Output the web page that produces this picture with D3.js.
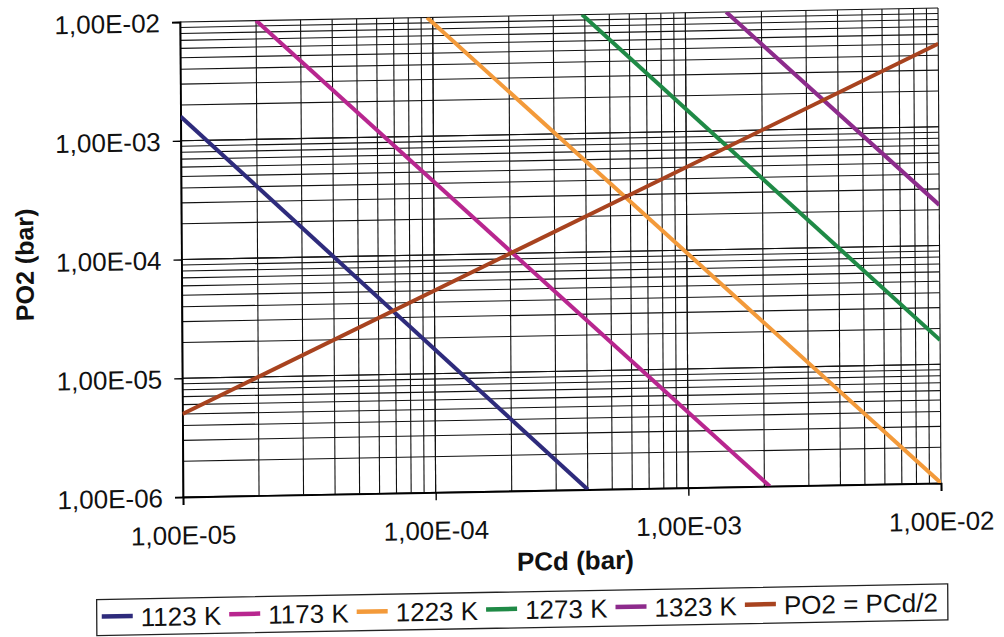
<!DOCTYPE html>
<html><head><meta charset="utf-8">
<script src="https://cdn.jsdelivr.net/npm/d3@7"></script>
<style>
body{margin:0;background:#fff;}
svg{display:block;font-family:"Liberation Sans",Arial,sans-serif;}
</style></head>
<body><svg id="c" width="1004" height="637"></svg>
<script>
// ---- data ----
const seriesNames = ["1123 K","1173 K","1223 K","1273 K","1323 K","PO2 = PCd/2"];
const seriesColors = ["#2e2b7c","#b8268f","#f39a3a","#1f8a46","#8d2b8c","#a8431f"];
const s1123 = [[1e-5,1.6e-3],[4.0e-4,1e-6]];
const s1173 = [[2.0e-5,1e-2],[2.1e-3,1e-6]];
const s1223 = [[9.5e-5,1e-2],[1e-2,1.0e-6]];
const s1273 = [[3.9e-4,1e-2],[1e-2,1.6e-5]];
const s1323 = [[1.45e-3,1e-2],[1e-2,2.2e-4]];
const sPO2  = [[1e-5,5e-6],[1e-2,5e-3]];
const seriesData = [s1123,s1173,s1223,s1273,s1323,sPO2];
const xTickValues = [1e-5,1e-4,1e-3,1e-2];
const xTickLabels = ["1,00E-05","1,00E-04","1,00E-03","1,00E-02"];
const yTickValues = [1e-6,1e-5,1e-4,1e-3,1e-2];
const yTickLabels = ["1,00E-06","1,00E-05","1,00E-04","1,00E-03","1,00E-02"];
const xTitle = "PCd (bar)", yTitle = "PO2 (bar)";

// ---- layout ----
const L=180, T=22, R=938, B=497;
const b=-0.0184, c=0.0063;
const svg=d3.select("#c");
const root=svg.append("g")
  .attr("transform",`matrix(1,${b},${c},1,${-c*T},${-b*L})`);

const x=d3.scaleLog().domain([1e-5,1e-2]).range([L,R]);
const y=d3.scaleLog().domain([1e-6,1e-2]).range([B,T]);

// minor + major grid
const xMinor=[],yMinor=[];
for(let e=-5;e<-2;e++) for(let m=1;m<=10;m++) xMinor.push(m*Math.pow(10,e));
for(let e=-6;e<-2;e++) for(let m=1;m<=10;m++) yMinor.push(m*Math.pow(10,e));
const grid=root.append("g").attr("stroke","#111").attr("stroke-width",1.1);
grid.selectAll("line.vx").data(xMinor).join("line")
  .attr("x1",d=>x(d)).attr("x2",d=>x(d)).attr("y1",T).attr("y2",B);
grid.selectAll("line.hy").data(yMinor).join("line")
  .attr("y1",d=>y(d)).attr("y2",d=>y(d)).attr("x1",L).attr("x2",R);

// axes
const xAxis=d3.axisBottom(x).tickValues(xTickValues).tickFormat((d,i)=>xTickLabels[i]).tickSize(8).tickPadding(21);
const yAxis=d3.axisLeft(y).tickValues(yTickValues).tickFormat((d,i)=>yTickLabels[i]).tickSize(8).tickPadding(12);
const gx=root.append("g").attr("transform",`translate(0,${B})`).call(xAxis);
const gy=root.append("g").attr("transform",`translate(${L},0)`).call(yAxis);
[gx,gy].forEach(g=>{
  g.select(".domain").attr("stroke","#000").attr("stroke-width",1.8);
  g.selectAll(".tick line").attr("stroke","#000").attr("stroke-width",1.4);
  g.selectAll(".tick text").attr("fill","#111").attr("font-size",26).attr("font-family","Liberation Sans, Arial, sans-serif");
});
gy.selectAll(".tick text").attr("dy","0.36em");

// clip
root.append("clipPath").attr("id","clp").append("rect").attr("x",L).attr("y",T).attr("width",R-L).attr("height",B-T);
const line=d3.line().x(d=>x(d[0])).y(d=>y(d[1]));
root.append("g").attr("clip-path","url(#clp)")
  .selectAll("path").data(seriesData).join("path")
  .attr("d",line).attr("fill","none")
  .attr("stroke",(d,i)=>seriesColors[i]).attr("stroke-width",4).attr("stroke-linecap","butt");

// titles
root.append("text").attr("x",572).attr("y",577).attr("text-anchor","middle")
  .attr("font-size",26).attr("font-weight","bold").attr("fill","#111").text(xTitle);
root.append("text").attr("transform",`translate(32,262) rotate(-90)`).attr("text-anchor","middle")
  .attr("font-size",25).attr("font-weight","bold").attr("fill","#111").text(yTitle);

// legend
const lg=root.append("g");
const boxX=93, boxY=598, boxH=36;
const box=lg.append("rect").attr("x",boxX).attr("y",boxY).attr("height",boxH).attr("fill","#fff").attr("stroke","#222").attr("stroke-width",1.3);
let cx=boxX+5;
seriesNames.forEach((n,i)=>{
  lg.append("line").attr("x1",cx).attr("x2",cx+31).attr("y1",boxY+boxH/2-1).attr("y2",boxY+boxH/2-1)
    .attr("stroke",seriesColors[i]).attr("stroke-width",4.5);
  const t=lg.append("text").attr("x",cx+39).attr("y",boxY+boxH/2).attr("dy","0.36em")
    .attr("font-size",26).attr("fill","#111").text(n);
  cx+=39+t.node().getComputedTextLength()+8;
});
box.attr("width",cx-boxX+2);
</script></body></html>
